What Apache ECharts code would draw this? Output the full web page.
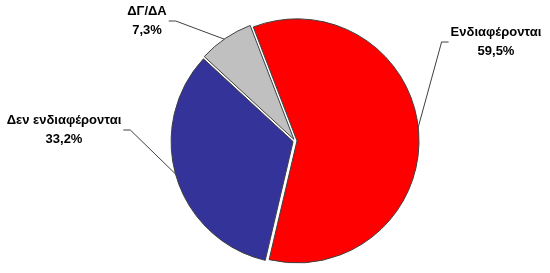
<!DOCTYPE html>
<html>
<head>
<meta charset="utf-8">
<script src="https://cdn.jsdelivr.net/npm/echarts@6/dist/echarts.min.js"></script>
<style>html,body{margin:0;padding:0;background:#fff;}#c{width:550px;height:273px;}</style>
</head>
<body>
<div id="c"></div>
<script>
const categories = ['Ενδιαφέρονται', 'Δεν ενδιαφέρονται', 'ΔΓ/ΔΑ'];
const values = [59.5, 33.2, 7.3];
const valueLabels = ['59,5%', '33,2%', '7,3%'];
const colors = ['#FF0000', '#333399', '#C0C0C0'];

// label block centres and the side the leader attaches to
const labelPos = [
  { x: 496, y: 42, side: 'left' },
  { x: 64, y: 130, side: 'right' },
  { x: 147, y: 21, side: 'right' }
];

const CENTER = [295, 141];
const RADIUS = 122;
const START = 111;

const chart = echarts.init(document.getElementById('c'), null, { renderer: 'canvas' });
chart.setOption({
  animation: false,
  backgroundColor: '#fff',
  series: [{
    // visible, slightly exploded slices
    type: 'pie',
    center: CENTER,
    radius: RADIUS,
    startAngle: START,
    clockwise: true,
    selectedMode: 'multiple',
    selectedOffset: 2,
    emphasis: { disabled: true },
    silent: true,
    label: { show: false },
    labelLine: { show: false },
    itemStyle: { borderColor: '#404040', borderWidth: 1 },
    data: categories.map((c, i) => ({
      name: c, value: values[i], selected: true,
      itemStyle: { color: colors[i] }
    }))
  }, {
    // invisible twin that carries the labels and leader lines
    type: 'pie',
    center: CENTER,
    radius: RADIUS,
    startAngle: START,
    clockwise: true,
    silent: true,
    emphasis: { disabled: true },
    itemStyle: { color: 'rgba(0,0,0,0)', borderWidth: 0 },
    data: categories.map((c, i) => ({ name: c, value: values[i] })),
    label: {
      show: true,
      overflow: 'none',
      formatter: p => p.name + '\n' + valueLabels[p.dataIndex],
      fontFamily: 'Liberation Sans, Arial, sans-serif',
      fontWeight: 'bold',
      fontSize: 13,
      lineHeight: 19,
      color: '#000',
      align: 'center'
    },
    labelLine: { show: true, lineStyle: { color: '#404040', width: 1 } },
    labelLayout: function (p) {
      const lp = labelPos[p.dataIndex];
      const w = p.labelRect.width;
      const start = p.labelLinePoints[0];
      let attach, knee;
      if (lp.side === 'left') {
        attach = [lp.x - w / 2 - 2, lp.y];
        knee = [lp.x - w / 2 - 9, lp.y];
      } else {
        attach = [lp.x + w / 2 + 2, lp.y];
        knee = [lp.x + w / 2 + 9, lp.y];
      }
      return {
        x: lp.x, y: lp.y, align: 'center', verticalAlign: 'middle',
        labelLinePoints: [start, knee, attach]
      };
    }
  }]
});
</script>
</body>
</html>
